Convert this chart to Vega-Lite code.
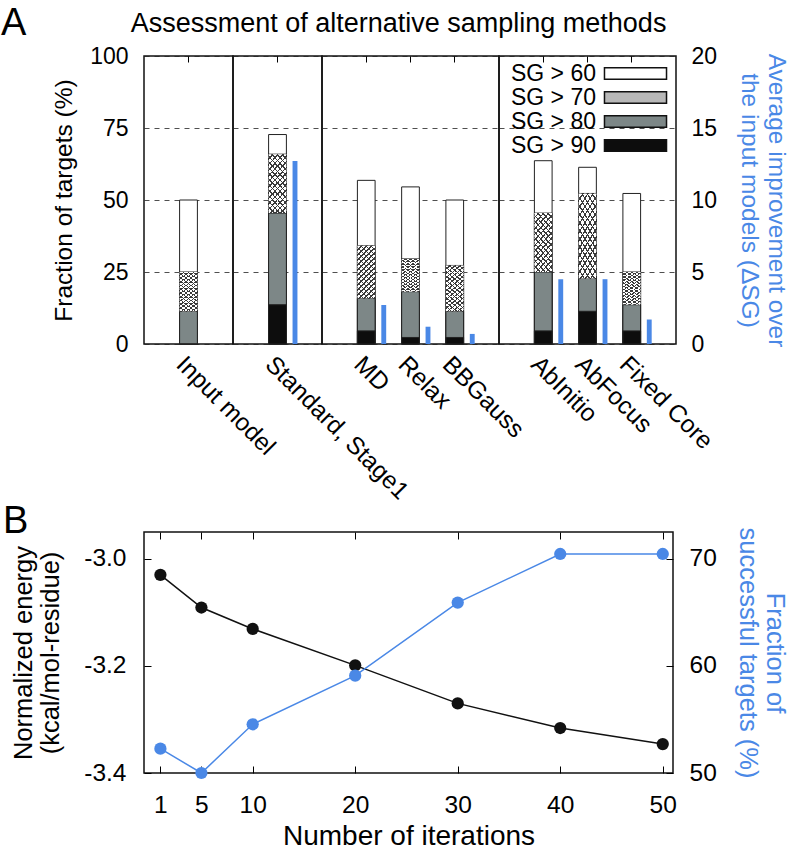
{
  "$schema": "https://vega.github.io/schema/vega-lite/v6.json",
  "background": "white",
  "padding": {"left": 0, "top": 4, "right": 5, "bottom": 5},
  "params": [
    {"name": "hatchA", "value": {"gradient": "linear", "x1": 0, "y1": 0, "x2": 0.4, "y2": 1.2, "stops": [{"offset":0,"color":"#ffffff"},{"offset":0.0514,"color":"#ffffff"},{"offset":0.0514,"color":"#3a3a3a"},{"offset":0.0714,"color":"#3a3a3a"},{"offset":0.0714,"color":"#ffffff"},{"offset":0.1229,"color":"#ffffff"},{"offset":0.1229,"color":"#3a3a3a"},{"offset":0.1429,"color":"#3a3a3a"},{"offset":0.1429,"color":"#ffffff"},{"offset":0.1943,"color":"#ffffff"},{"offset":0.1943,"color":"#3a3a3a"},{"offset":0.2143,"color":"#3a3a3a"},{"offset":0.2143,"color":"#ffffff"},{"offset":0.2657,"color":"#ffffff"},{"offset":0.2657,"color":"#3a3a3a"},{"offset":0.2857,"color":"#3a3a3a"},{"offset":0.2857,"color":"#ffffff"},{"offset":0.3371,"color":"#ffffff"},{"offset":0.3371,"color":"#3a3a3a"},{"offset":0.3571,"color":"#3a3a3a"},{"offset":0.3571,"color":"#ffffff"},{"offset":0.4086,"color":"#ffffff"},{"offset":0.4086,"color":"#3a3a3a"},{"offset":0.4286,"color":"#3a3a3a"},{"offset":0.4286,"color":"#ffffff"},{"offset":0.48,"color":"#ffffff"},{"offset":0.48,"color":"#3a3a3a"},{"offset":0.5,"color":"#3a3a3a"},{"offset":0.5,"color":"#ffffff"},{"offset":0.5514,"color":"#ffffff"},{"offset":0.5514,"color":"#3a3a3a"},{"offset":0.5714,"color":"#3a3a3a"},{"offset":0.5714,"color":"#ffffff"},{"offset":0.6229,"color":"#ffffff"},{"offset":0.6229,"color":"#3a3a3a"},{"offset":0.6429,"color":"#3a3a3a"},{"offset":0.6429,"color":"#ffffff"},{"offset":0.6943,"color":"#ffffff"},{"offset":0.6943,"color":"#3a3a3a"},{"offset":0.7143,"color":"#3a3a3a"},{"offset":0.7143,"color":"#ffffff"},{"offset":0.7657,"color":"#ffffff"},{"offset":0.7657,"color":"#3a3a3a"},{"offset":0.7857,"color":"#3a3a3a"},{"offset":0.7857,"color":"#ffffff"},{"offset":0.8371,"color":"#ffffff"},{"offset":0.8371,"color":"#3a3a3a"},{"offset":0.8571,"color":"#3a3a3a"},{"offset":0.8571,"color":"#ffffff"},{"offset":0.9086,"color":"#ffffff"},{"offset":0.9086,"color":"#3a3a3a"},{"offset":0.9286,"color":"#3a3a3a"},{"offset":0.9286,"color":"#ffffff"},{"offset":0.98,"color":"#ffffff"},{"offset":0.98,"color":"#3a3a3a"},{"offset":1,"color":"#3a3a3a"}]}},
    {"name": "hatchB", "value": {"gradient": "linear", "x1": 1, "y1": 0, "x2": 0.6, "y2": 1.2, "stops": [{"offset":0,"color":"rgba(255,255,255,0)"},{"offset":0.0514,"color":"rgba(255,255,255,0)"},{"offset":0.0514,"color":"#3a3a3a"},{"offset":0.0714,"color":"#3a3a3a"},{"offset":0.0714,"color":"rgba(255,255,255,0)"},{"offset":0.1229,"color":"rgba(255,255,255,0)"},{"offset":0.1229,"color":"#3a3a3a"},{"offset":0.1429,"color":"#3a3a3a"},{"offset":0.1429,"color":"rgba(255,255,255,0)"},{"offset":0.1943,"color":"rgba(255,255,255,0)"},{"offset":0.1943,"color":"#3a3a3a"},{"offset":0.2143,"color":"#3a3a3a"},{"offset":0.2143,"color":"rgba(255,255,255,0)"},{"offset":0.2657,"color":"rgba(255,255,255,0)"},{"offset":0.2657,"color":"#3a3a3a"},{"offset":0.2857,"color":"#3a3a3a"},{"offset":0.2857,"color":"rgba(255,255,255,0)"},{"offset":0.3371,"color":"rgba(255,255,255,0)"},{"offset":0.3371,"color":"#3a3a3a"},{"offset":0.3571,"color":"#3a3a3a"},{"offset":0.3571,"color":"rgba(255,255,255,0)"},{"offset":0.4086,"color":"rgba(255,255,255,0)"},{"offset":0.4086,"color":"#3a3a3a"},{"offset":0.4286,"color":"#3a3a3a"},{"offset":0.4286,"color":"rgba(255,255,255,0)"},{"offset":0.48,"color":"rgba(255,255,255,0)"},{"offset":0.48,"color":"#3a3a3a"},{"offset":0.5,"color":"#3a3a3a"},{"offset":0.5,"color":"rgba(255,255,255,0)"},{"offset":0.5514,"color":"rgba(255,255,255,0)"},{"offset":0.5514,"color":"#3a3a3a"},{"offset":0.5714,"color":"#3a3a3a"},{"offset":0.5714,"color":"rgba(255,255,255,0)"},{"offset":0.6229,"color":"rgba(255,255,255,0)"},{"offset":0.6229,"color":"#3a3a3a"},{"offset":0.6429,"color":"#3a3a3a"},{"offset":0.6429,"color":"rgba(255,255,255,0)"},{"offset":0.6943,"color":"rgba(255,255,255,0)"},{"offset":0.6943,"color":"#3a3a3a"},{"offset":0.7143,"color":"#3a3a3a"},{"offset":0.7143,"color":"rgba(255,255,255,0)"},{"offset":0.7657,"color":"rgba(255,255,255,0)"},{"offset":0.7657,"color":"#3a3a3a"},{"offset":0.7857,"color":"#3a3a3a"},{"offset":0.7857,"color":"rgba(255,255,255,0)"},{"offset":0.8371,"color":"rgba(255,255,255,0)"},{"offset":0.8371,"color":"#3a3a3a"},{"offset":0.8571,"color":"#3a3a3a"},{"offset":0.8571,"color":"rgba(255,255,255,0)"},{"offset":0.9086,"color":"rgba(255,255,255,0)"},{"offset":0.9086,"color":"#3a3a3a"},{"offset":0.9286,"color":"#3a3a3a"},{"offset":0.9286,"color":"rgba(255,255,255,0)"},{"offset":0.98,"color":"rgba(255,255,255,0)"},{"offset":0.98,"color":"#3a3a3a"},{"offset":1,"color":"#3a3a3a"}]}}
  ],
  "config": {
    "font": "Liberation Sans",
    "view": {"stroke": "#111", "strokeWidth": 1.5},
    "axis": {
      "labelColor": "black", "titleColor": "black", "tickColor": "black",
      "labelFont": "Liberation Sans", "titleFont": "Liberation Sans",
      "titleFontWeight": "normal", "gridColor": "#222", "gridDash": [5, 5],
      "gridWidth": 0.8, "gridOpacity": 1
    },
    "title": {"font": "Liberation Sans", "fontWeight": "normal", "color": "black"},
    "legend": {"labelFont": "Liberation Sans", "labelColor": "black"}
  },
  "datasets": {
    "sg": [
      {"method": "Input model", "group": "input", "level": "SG > 60", "value": 50.0},
      {"method": "Input model", "group": "input", "level": "SG > 70", "value": 25.0},
      {"method": "Input model", "group": "input", "level": "SG > 80", "value": 11.36},
      {"method": "Input model", "group": "input", "level": "SG > 90", "value": 0},
      {"method": "Standard, Stage1", "group": "standard", "level": "SG > 60", "value": 72.73},
      {"method": "Standard, Stage1", "group": "standard", "level": "SG > 70", "value": 65.91},
      {"method": "Standard, Stage1", "group": "standard", "level": "SG > 80", "value": 45.45},
      {"method": "Standard, Stage1", "group": "standard", "level": "SG > 90", "value": 13.64},
      {"method": "MD", "group": "perturb", "level": "SG > 60", "value": 56.82},
      {"method": "MD", "group": "perturb", "level": "SG > 70", "value": 34.09},
      {"method": "MD", "group": "perturb", "level": "SG > 80", "value": 15.91},
      {"method": "MD", "group": "perturb", "level": "SG > 90", "value": 4.55},
      {"method": "Relax", "group": "perturb", "level": "SG > 60", "value": 54.55},
      {"method": "Relax", "group": "perturb", "level": "SG > 70", "value": 29.55},
      {"method": "Relax", "group": "perturb", "level": "SG > 80", "value": 18.18},
      {"method": "Relax", "group": "perturb", "level": "SG > 90", "value": 2.27},
      {"method": "BBGauss", "group": "perturb", "level": "SG > 60", "value": 50.0},
      {"method": "BBGauss", "group": "perturb", "level": "SG > 70", "value": 27.27},
      {"method": "BBGauss", "group": "perturb", "level": "SG > 80", "value": 11.36},
      {"method": "BBGauss", "group": "perturb", "level": "SG > 90", "value": 2.27},
      {"method": "AbInitio", "group": "fold", "level": "SG > 60", "value": 63.64},
      {"method": "AbInitio", "group": "fold", "level": "SG > 70", "value": 45.45},
      {"method": "AbInitio", "group": "fold", "level": "SG > 80", "value": 25.0},
      {"method": "AbInitio", "group": "fold", "level": "SG > 90", "value": 4.55},
      {"method": "AbFocus", "group": "fold", "level": "SG > 60", "value": 61.36},
      {"method": "AbFocus", "group": "fold", "level": "SG > 70", "value": 52.27},
      {"method": "AbFocus", "group": "fold", "level": "SG > 80", "value": 22.73},
      {"method": "AbFocus", "group": "fold", "level": "SG > 90", "value": 11.36},
      {"method": "Fixed Core", "group": "fold", "level": "SG > 60", "value": 52.27},
      {"method": "Fixed Core", "group": "fold", "level": "SG > 70", "value": 25.0},
      {"method": "Fixed Core", "group": "fold", "level": "SG > 80", "value": 13.64},
      {"method": "Fixed Core", "group": "fold", "level": "SG > 90", "value": 4.55}
    ],
    "dsg": [
      {"method": "Standard, Stage1", "group": "standard", "dsg": 12.7},
      {"method": "MD", "group": "perturb", "dsg": 2.7},
      {"method": "Relax", "group": "perturb", "dsg": 1.2},
      {"method": "BBGauss", "group": "perturb", "dsg": 0.7},
      {"method": "AbInitio", "group": "fold", "dsg": 4.5},
      {"method": "AbFocus", "group": "fold", "dsg": 4.5},
      {"method": "Fixed Core", "group": "fold", "dsg": 1.7}
    ],
    "iter": [
      {"iterations": 1, "energy": -3.03, "fraction": 52.27},
      {"iterations": 5, "energy": -3.091, "fraction": 50.0},
      {"iterations": 10, "energy": -3.131, "fraction": 54.55},
      {"iterations": 20, "energy": -3.199, "fraction": 59.09},
      {"iterations": 30, "energy": -3.27, "fraction": 65.91},
      {"iterations": 40, "energy": -3.316, "fraction": 70.45},
      {"iterations": 50, "energy": -3.346, "fraction": 70.45}
    ]
  },
  "vconcat": [
    {
      "hconcat": [
        {
          "width": 89, "height": 288,
          "title": {"text": "A", "anchor": "start", "frame": "group", "dx": -143, "offset": -28, "fontSize": 38, "baseline": "alphabetic"},
          "layer": [
            {
              "data": {"name": "sg"},
              "transform": [{"filter": "datum.group === 'input'"}],
              "mark": {"type": "bar", "width": {"band": 0.4}, "stroke": "#222", "strokeWidth": 1},
              "encoding": {
                "x": {"field": "method", "type": "nominal", "sort": null, "scale": {"paddingInner": 0, "paddingOuter": 0.5},
                  "axis": {"orient": "bottom", "title": null, "labelAngle": 45, "labelAlign": "left", "labelBaseline": "top", "labelPadding": 8, "ticks": false, "domain": false, "labelFontSize": 24.5, "labelLimit": 0}},
                "y": {"field": "value", "type": "quantitative", "stack": null, "scale": {"domain": [0, 100]},
                  "axis": {"orient": "left", "values": [0, 25, 50, 75, 100], "grid": true, "ticks": false, "domain": false, "labelPadding": 16, "labelFontSize": 23, "title": "Fraction of targets (%)", "titleFontSize": 24.5, "titlePadding": 13}},
                "color": {"field": "level", "type": "nominal", "scale": {"domain": ["SG > 60", "SG > 70", "SG > 80", "SG > 90"], "range": ["#ffffff", "#b8b8b8", "#7d8787", "#0d0d0d"]}, "legend": null},
                "order": {"field": "value", "sort": "descending"}
              }
            },
            {
              "data": {"name": "sg"},
              "transform": [{"pivot": "level", "value": "value", "groupby": ["method", "group"]}, {"filter": "datum.group === 'input'"}],
              "mark": {"type": "bar", "width": {"band": 0.4}, "fill": {"expr": "hatchA"}, "strokeWidth": 0},
              "encoding": {
                "x": {"field": "method", "type": "nominal", "sort": null, "axis": null},
                "y": {"field": "SG > 70", "type": "quantitative", "scale": {"domain": [0, 100]}, "axis": null},
                "y2": {"field": "SG > 80"}
              }
            },
            {
              "data": {"name": "sg"},
              "transform": [{"pivot": "level", "value": "value", "groupby": ["method", "group"]}, {"filter": "datum.group === 'input'"}],
              "mark": {"type": "bar", "width": {"band": 0.4}, "fill": {"expr": "hatchB"}, "strokeWidth": 0},
              "encoding": {
                "x": {"field": "method", "type": "nominal", "sort": null, "axis": null},
                "y": {"field": "SG > 70", "type": "quantitative", "scale": {"domain": [0, 100]}, "axis": null},
                "y2": {"field": "SG > 80"}
              }
            },
            {
              "data": {"name": "dsg"},
              "transform": [{"filter": "datum.group === 'input'"}],
              "mark": {"type": "bar", "width": {"band": 0.11}, "xOffset": 17.5, "color": "#4a88e6"},
              "encoding": {
                "x": {"field": "method", "type": "nominal", "sort": null, "axis": {"orient": "top", "labels": false, "title": null, "domain": false, "tickSize": -6, "grid": false}},
                "y": {"field": "dsg", "type": "quantitative", "scale": {"domain": [0, 20]}, "axis": null}
              }
            }
          ],
          "resolve": {"scale": {"y": "independent"}, "axis": {"x": "independent", "y": "independent"}}
        },
        {
          "width": 89, "height": 288,
          "layer": [
            {
              "data": {"name": "sg"},
              "transform": [{"filter": "datum.group === 'standard'"}],
              "mark": {"type": "bar", "width": {"band": 0.4}, "stroke": "#222", "strokeWidth": 1},
              "encoding": {
                "x": {"field": "method", "type": "nominal", "sort": null, "scale": {"paddingInner": 0, "paddingOuter": 0.5},
                  "axis": {"orient": "bottom", "title": null, "labelAngle": 45, "labelAlign": "left", "labelBaseline": "top", "labelPadding": 8, "ticks": false, "domain": false, "labelFontSize": 24.5, "labelLimit": 0}},
                "y": {"field": "value", "type": "quantitative", "stack": null, "scale": {"domain": [0, 100]},
                  "axis": {"values": [0, 25, 50, 75, 100], "grid": true, "labels": false, "ticks": false, "domain": false, "title": null}},
                "color": {"field": "level", "type": "nominal", "scale": {"domain": ["SG > 60", "SG > 70", "SG > 80", "SG > 90"], "range": ["#ffffff", "#b8b8b8", "#7d8787", "#0d0d0d"]}, "legend": null},
                "order": {"field": "value", "sort": "descending"}
              }
            },
            {
              "data": {"name": "sg"},
              "transform": [{"pivot": "level", "value": "value", "groupby": ["method", "group"]}, {"filter": "datum.group === 'standard'"}],
              "mark": {"type": "bar", "width": {"band": 0.4}, "fill": {"expr": "hatchA"}, "strokeWidth": 0},
              "encoding": {
                "x": {"field": "method", "type": "nominal", "sort": null, "axis": null},
                "y": {"field": "SG > 70", "type": "quantitative", "scale": {"domain": [0, 100]}, "axis": null},
                "y2": {"field": "SG > 80"}
              }
            },
            {
              "data": {"name": "sg"},
              "transform": [{"pivot": "level", "value": "value", "groupby": ["method", "group"]}, {"filter": "datum.group === 'standard'"}],
              "mark": {"type": "bar", "width": {"band": 0.4}, "fill": {"expr": "hatchB"}, "strokeWidth": 0},
              "encoding": {
                "x": {"field": "method", "type": "nominal", "sort": null, "axis": null},
                "y": {"field": "SG > 70", "type": "quantitative", "scale": {"domain": [0, 100]}, "axis": null},
                "y2": {"field": "SG > 80"}
              }
            },
            {
              "data": {"name": "dsg"},
              "transform": [{"filter": "datum.group === 'standard'"}],
              "mark": {"type": "bar", "width": {"band": 0.11}, "xOffset": 17.5, "color": "#4a88e6"},
              "encoding": {
                "x": {"field": "method", "type": "nominal", "sort": null, "axis": {"orient": "top", "labels": false, "title": null, "domain": false, "tickSize": -6, "grid": false}},
                "y": {"field": "dsg", "type": "quantitative", "scale": {"domain": [0, 20]}, "axis": null}
              }
            }
          ],
          "resolve": {"scale": {"y": "independent"}, "axis": {"x": "independent", "y": "independent"}}
        },
        {
          "width": 177, "height": 288,
          "title": {"text": "Assessment of alternative sampling methods", "anchor": "middle", "frame": "group", "dx": -12, "offset": -3, "fontSize": 27, "baseline": "alphabetic"},
          "layer": [
            {
              "data": {"name": "sg"},
              "transform": [{"filter": "datum.group === 'perturb'"}],
              "mark": {"type": "bar", "width": {"band": 0.4}, "stroke": "#222", "strokeWidth": 1},
              "encoding": {
                "x": {"field": "method", "type": "nominal", "sort": null, "scale": {"paddingInner": 0, "paddingOuter": 0.5},
                  "axis": {"orient": "bottom", "title": null, "labelAngle": 45, "labelAlign": "left", "labelBaseline": "top", "labelPadding": 8, "ticks": false, "domain": false, "labelFontSize": 24.5, "labelLimit": 0}},
                "y": {"field": "value", "type": "quantitative", "stack": null, "scale": {"domain": [0, 100]},
                  "axis": {"values": [0, 25, 50, 75, 100], "grid": true, "labels": false, "ticks": false, "domain": false, "title": null}},
                "color": {"field": "level", "type": "nominal", "scale": {"domain": ["SG > 60", "SG > 70", "SG > 80", "SG > 90"], "range": ["#ffffff", "#b8b8b8", "#7d8787", "#0d0d0d"]}, "legend": null},
                "order": {"field": "value", "sort": "descending"}
              }
            },
            {
              "data": {"name": "sg"},
              "transform": [{"pivot": "level", "value": "value", "groupby": ["method", "group"]}, {"filter": "datum.group === 'perturb'"}],
              "mark": {"type": "bar", "width": {"band": 0.4}, "fill": {"expr": "hatchA"}, "strokeWidth": 0},
              "encoding": {
                "x": {"field": "method", "type": "nominal", "sort": null, "axis": null},
                "y": {"field": "SG > 70", "type": "quantitative", "scale": {"domain": [0, 100]}, "axis": null},
                "y2": {"field": "SG > 80"}
              }
            },
            {
              "data": {"name": "sg"},
              "transform": [{"pivot": "level", "value": "value", "groupby": ["method", "group"]}, {"filter": "datum.group === 'perturb'"}],
              "mark": {"type": "bar", "width": {"band": 0.4}, "fill": {"expr": "hatchB"}, "strokeWidth": 0},
              "encoding": {
                "x": {"field": "method", "type": "nominal", "sort": null, "axis": null},
                "y": {"field": "SG > 70", "type": "quantitative", "scale": {"domain": [0, 100]}, "axis": null},
                "y2": {"field": "SG > 80"}
              }
            },
            {
              "data": {"name": "dsg"},
              "transform": [{"filter": "datum.group === 'perturb'"}],
              "mark": {"type": "bar", "width": {"band": 0.11}, "xOffset": 17.5, "color": "#4a88e6"},
              "encoding": {
                "x": {"field": "method", "type": "nominal", "sort": null, "axis": {"orient": "top", "labels": false, "title": null, "domain": false, "tickSize": -6, "grid": false}},
                "y": {"field": "dsg", "type": "quantitative", "scale": {"domain": [0, 20]}, "axis": null}
              }
            }
          ],
          "resolve": {"scale": {"y": "independent"}, "axis": {"x": "independent", "y": "independent"}}
        },
        {
          "width": 177, "height": 288,
          "layer": [
            {
              "data": {"name": "sg"},
              "transform": [{"filter": "datum.group === 'fold'"}],
              "mark": {"type": "bar", "width": {"band": 0.4}, "stroke": "#222", "strokeWidth": 1},
              "encoding": {
                "x": {"field": "method", "type": "nominal", "sort": null, "scale": {"paddingInner": 0, "paddingOuter": 0.5},
                  "axis": {"orient": "bottom", "title": null, "labelAngle": 45, "labelAlign": "left", "labelBaseline": "top", "labelPadding": 8, "ticks": false, "domain": false, "labelFontSize": 24.5, "labelLimit": 0}},
                "y": {"field": "value", "type": "quantitative", "stack": null, "scale": {"domain": [0, 100]},
                  "axis": {"values": [0, 25, 50, 75, 100], "grid": true, "labels": false, "ticks": false, "domain": false, "title": null}},
                "color": {"field": "level", "type": "nominal", "scale": {"domain": ["SG > 60", "SG > 70", "SG > 80", "SG > 90"], "range": ["#ffffff", "#b8b8b8", "#7d8787", "#0d0d0d"]},
                  "legend": {"orient": "top-right", "title": null, "offset": 6, "padding": 0, "symbolType": "M-5.17,-0.95L5.17,-0.95L5.17,0.95L-5.17,0.95Z", "symbolSize": 144, "symbolStrokeColor": "#111", "symbolStrokeWidth": 1.5, "symbolOpacity": 1, "labelFontSize": 23, "labelAlign": "right", "labelOffset": -51, "rowPadding": 0, "labelLimit": 0,
                    "encode": {"symbols": {"update": {
                      "stroke": {"value": "#111"},
                      "strokeWidth": {"value": 1.5},
                      "opacity": {"value": 1}
                    }}}}},
                "order": {"field": "value", "sort": "descending"}
              }
            },
            {
              "data": {"name": "sg"},
              "transform": [{"pivot": "level", "value": "value", "groupby": ["method", "group"]}, {"filter": "datum.group === 'fold'"}],
              "mark": {"type": "bar", "width": {"band": 0.4}, "fill": {"expr": "hatchA"}, "strokeWidth": 0},
              "encoding": {
                "x": {"field": "method", "type": "nominal", "sort": null, "axis": null},
                "y": {"field": "SG > 70", "type": "quantitative", "scale": {"domain": [0, 100]}, "axis": null},
                "y2": {"field": "SG > 80"}
              }
            },
            {
              "data": {"name": "sg"},
              "transform": [{"pivot": "level", "value": "value", "groupby": ["method", "group"]}, {"filter": "datum.group === 'fold'"}],
              "mark": {"type": "bar", "width": {"band": 0.4}, "fill": {"expr": "hatchB"}, "strokeWidth": 0},
              "encoding": {
                "x": {"field": "method", "type": "nominal", "sort": null, "axis": null},
                "y": {"field": "SG > 70", "type": "quantitative", "scale": {"domain": [0, 100]}, "axis": null},
                "y2": {"field": "SG > 80"}
              }
            },
            {
              "data": {"name": "dsg"},
              "transform": [{"filter": "datum.group === 'fold'"}],
              "mark": {"type": "bar", "width": {"band": 0.11}, "xOffset": 17.5, "color": "#4a88e6"},
              "encoding": {
                "x": {"field": "method", "type": "nominal", "sort": null, "axis": {"orient": "top", "labels": false, "title": null, "domain": false, "tickSize": -6, "grid": false}},
                "y": {"field": "dsg", "type": "quantitative", "scale": {"domain": [0, 20]},
                  "axis": {"orient": "right", "values": [0, 5, 10, 15, 20], "ticks": false, "domain": false, "grid": false, "labelPadding": 15, "labelFontSize": 23, "title": ["Average improvement over", "the input models (ΔSG)"], "titleColor": "#4a88e6", "titleFontSize": 24.5, "titleAngle": 90, "titlePadding": 20}}
              }
            }
          ],
          "resolve": {"scale": {"y": "independent"}, "axis": {"x": "independent", "y": "independent"}}
        }
      ],
      "spacing": 0,
      "bounds": "flush",
      "resolve": {"scale": {"x": "independent", "y": "independent", "color": "independent"}, "legend": {"color": "independent"}}
    },
    {
      "width": 529, "height": 241,
      "title": {"text": "B", "anchor": "start", "frame": "group", "dx": -141, "offset": -44, "fontSize": 38, "baseline": "alphabetic"},
      "data": {"name": "iter"},
      "layer": [
        {
          "encoding": {
            "x": {"field": "iterations", "type": "quantitative", "scale": {"domain": [-0.6, 51], "nice": false, "zero": false},
              "axis": {"orient": "bottom", "values": [1, 5, 10, 20, 30, 40, 50], "grid": false, "domain": false, "tickSize": -7, "labelPadding": 27, "labelFontSize": 24.5, "title": "Number of iterations", "titleFontSize": 28, "titlePadding": 6}},
            "y": {"field": "energy", "type": "quantitative", "scale": {"domain": [-3.4, -2.95], "nice": false, "zero": false},
              "axis": {"orient": "left", "values": [-3.4, -3.2, -3.0], "labelExpr": "'-' + format(abs(datum.value), '.1f')", "grid": false, "domain": false, "tickSize": -7, "labelPadding": 25, "labelFontSize": 24.5, "title": ["Normalized energy", "(kcal/mol-residue)"], "titleFontSize": 25.5, "titlePadding": 20}}
          },
          "layer": [
            {"mark": {"type": "line", "color": "#111", "strokeWidth": 1.5}},
            {"mark": {"type": "point", "filled": true, "size": 150, "color": "#111", "opacity": 1}}
          ]
        },
        {
          "encoding": {
            "x": {"field": "iterations", "type": "quantitative", "scale": {"domain": [-0.6, 51], "nice": false, "zero": false},
              "axis": {"orient": "top", "values": [1, 5, 10, 20, 30, 40, 50], "labels": false, "title": null, "grid": false, "domain": false, "tickSize": -7}},
            "y": {"field": "fraction", "type": "quantitative", "scale": {"domain": [50, 72.5], "nice": false, "zero": false},
              "axis": {"orient": "right", "values": [50, 60, 70], "grid": false, "domain": false, "tickSize": -7, "labelPadding": 23, "labelFontSize": 24.5, "title": ["Fraction of", "successful targets (%)"], "titleColor": "#4a88e6", "titleFontSize": 25.5, "titleAngle": 90, "titlePadding": 18}}
          },
          "layer": [
            {"mark": {"type": "line", "color": "#4a88e6", "strokeWidth": 1.5}},
            {"mark": {"type": "point", "filled": true, "size": 150, "color": "#4a88e6", "opacity": 1}}
          ]
        }
      ],
      "resolve": {"scale": {"y": "independent"}, "axis": {"x": "independent", "y": "independent"}}
    }
  ],
  "spacing": -3
}
